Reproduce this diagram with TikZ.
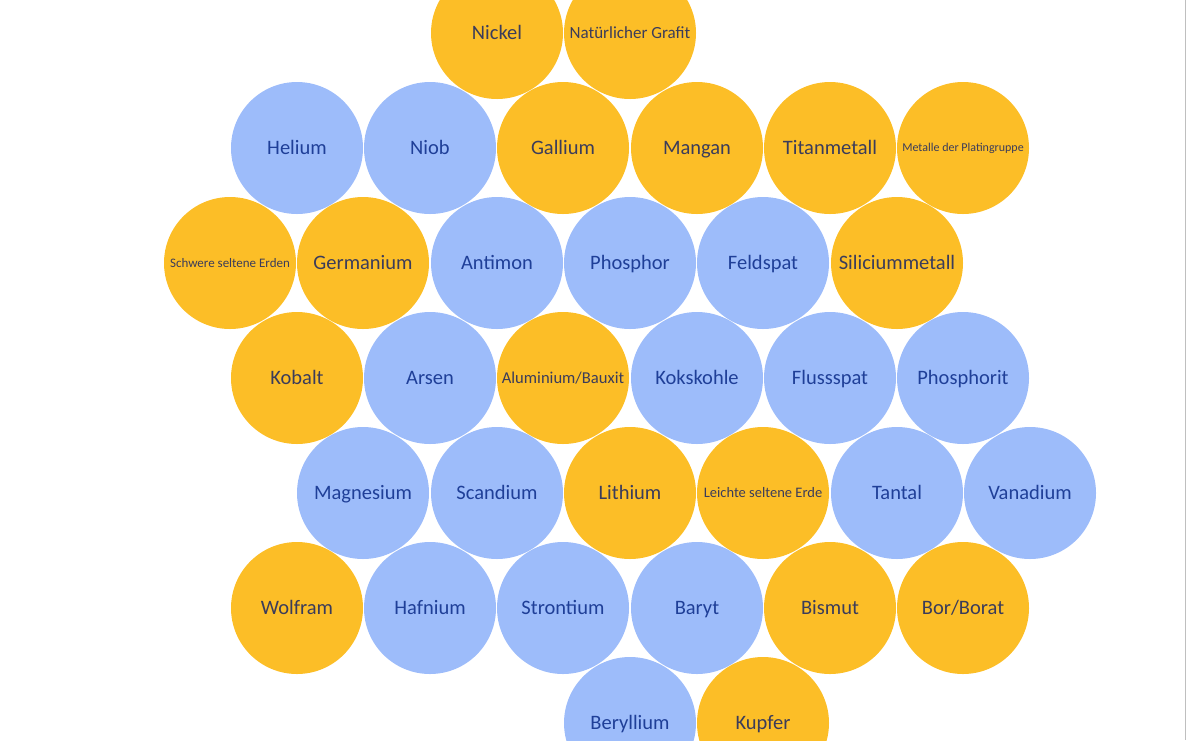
\documentclass[tikz,border=0pt]{standalone}
\usepackage{fontspec}
\setmainfont{Carlito}
\usepackage{xcolor}
\usepackage{tikz}
\definecolor{gelbfill}{HTML}{FCBE27}
\definecolor{blaufill}{HTML}{9DBCFA}
\definecolor{gelbtext}{HTML}{3B3C5A}
\definecolor{blautext}{HTML}{1F3F98}

\begin{document}
\begin{tikzpicture}[x=1pt, y=1pt,
  pt/.style={font=\fontsize{#1}{#1}\selectfont, text height=0.67*#1pt, text depth=0.04*#1pt},
  rohstoff/.style={circle, minimum size=132pt, inner sep=0pt, pt=20.5},
  gelb/.style={rohstoff, fill=gelbfill, text=gelbtext},
  blau/.style={rohstoff, fill=blaufill, text=blautext}]
\clip (0,0) rectangle (1186,-740);
\useasboundingbox (0,0) rectangle (1186,-740);
% oberste Reihe
\node[gelb] (nickel) at (497,-33) {Nickel};
\node[gelb, pt=17] (grafit) at (630,-33) {Natürlicher Grafit};
% Reihe 2
\node[blau] (helium) at (297,-148) {Helium};
\node[blau] (niob) at (430,-148) {Niob};
\node[gelb] (gallium) at (563,-148) {Gallium};
\node[gelb] (mangan) at (697,-148) {Mangan};
\node[gelb] (titan) at (830,-148) {Titanmetall};
\node[gelb, pt=12] (platin) at (963,-148) {Metalle der Platingruppe};
% Reihe 3
\node[gelb, pt=13] (schwere) at (230,-263) {Schwere seltene Erden};
\node[gelb] (germanium) at (363,-263) {Germanium};
\node[blau] (antimon) at (497,-263) {Antimon};
\node[blau] (phosphor) at (630,-263) {Phosphor};
\node[blau] (feldspat) at (763,-263) {Feldspat};
\node[gelb] (silicium) at (897,-263) {Siliciummetall};
% Reihe 4
\node[gelb] (kobalt) at (297,-378) {Kobalt};
\node[blau] (arsen) at (430,-378) {Arsen};
\node[gelb, pt=16.6] (bauxit) at (563,-378) {Aluminium/Bauxit};
\node[blau] (kokskohle) at (697,-378) {Kokskohle};
\node[blau] (flussspat) at (830,-378) {Flussspat};
\node[blau] (phosphorit) at (963,-378) {Phosphorit};
% Reihe 5
\node[blau] (magnesium) at (363,-493) {Magnesium};
\node[blau] (scandium) at (497,-493) {Scandium};
\node[gelb] (lithium) at (630,-493) {Lithium};
\node[gelb, pt=14.5] (leichte) at (763,-493) {Leichte seltene Erde};
\node[blau] (tantal) at (897,-493) {Tantal};
\node[blau] (vanadium) at (1030,-493) {Vanadium};
% Reihe 6
\node[gelb] (wolfram) at (297,-608) {Wolfram};
\node[blau] (hafnium) at (430,-608) {Hafnium};
\node[blau] (strontium) at (563,-608) {Strontium};
\node[blau] (baryt) at (697,-608) {Baryt};
\node[gelb] (bismut) at (830,-608) {Bismut};
\node[gelb] (bor) at (963,-608) {Bor/Borat};
% unterste Reihe
\node[blau] (beryllium) at (630,-723) {Beryllium};
\node[gelb] (kupfer) at (763,-723) {Kupfer};
% Rand rechts
\draw[black!25, line width=1.2pt] (1185.4,0) -- (1185.4,-740);
\end{tikzpicture}
\end{document}
